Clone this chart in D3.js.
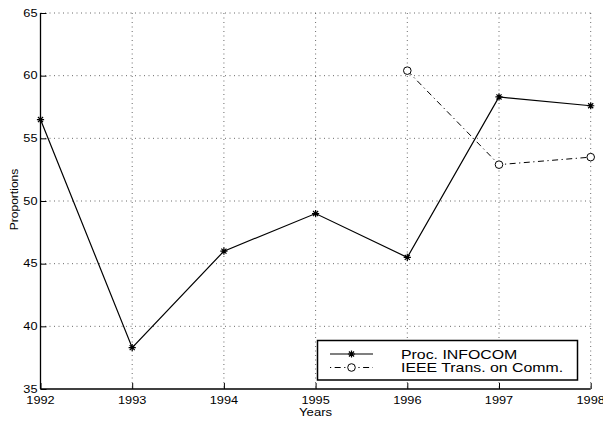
<!DOCTYPE html>
<html>
<head>
<meta charset="utf-8">
<script src="https://cdn.jsdelivr.net/npm/d3@7"></script>
<style>
  html, body { margin: 0; padding: 0; background: #fff; }
  svg { display: block; }
  text { font-family: Arial, "Liberation Sans", Helvetica, sans-serif; fill: #000; }
</style>
</head>
<body>
<svg id="chart" width="603" height="421"></svg>
<script>
// ---- data ----
const years = [1992, 1993, 1994, 1995, 1996, 1997, 1998];
const infocom = [56.5, 38.3, 46.0, 49.0, 45.5, 58.3, 57.6];
const ieeeYears = [1996, 1997, 1998];
const ieee = [60.4, 52.9, 53.5];
const yTicks = [35, 40, 45, 50, 55, 60, 65];
const xTicks = [1992, 1993, 1994, 1995, 1996, 1997, 1998];
const seriesNames = ["Proc. INFOCOM", "IEEE Trans. on Comm."];
const xLabel = "Years";
const yLabel = "Proportions";

(function () {
// ---- layout ----
const svg = d3.select("#chart");
const pLeft = 40.5, pRight = 590.7, pTop = 13, pBottom = 389;
const x = d3.scaleLinear().domain([1992, 1998]).range([pLeft, pRight]);
const y = d3.scaleLinear().domain([35, 65]).range([pBottom, pTop]);
const stretch = 1.25;

// grid
const grid = svg.append("g").attr("stroke", "#444").attr("stroke-width", 0.8)
  .attr("stroke-dasharray", "1,3.5");
grid.selectAll("line.h").data(yTicks.filter(d => d !== 35)).join("line")
  .attr("class", "h")
  .attr("x1", pLeft).attr("x2", pRight)
  .attr("y1", d => y(d)).attr("y2", d => y(d));
grid.selectAll("line.v").data(xTicks.filter(d => d !== 1992)).join("line")
  .attr("class", "v")
  .attr("x1", d => x(d)).attr("x2", d => x(d))
  .attr("y1", pTop).attr("y2", pBottom);

// axes (ticks inside)
const xAxis = d3.axisBottom(x).tickValues(xTicks).tickSize(-6).tickFormat("");
const yAxis = d3.axisLeft(y).tickValues(yTicks).tickSize(-6).tickFormat("");
const gx = svg.append("g").attr("transform", `translate(0,${pBottom})`).call(xAxis);
const gy = svg.append("g").attr("transform", `translate(${pLeft},0)`).call(yAxis);
gx.select(".domain").attr("stroke", "#000").attr("stroke-width", 1.3).attr("d", `M${pLeft},0H${pRight}`);
gy.select(".domain").attr("stroke", "#000").attr("stroke-width", 1.3).attr("d", `M0,${pBottom}V${pTop}`);
[gx, gy].forEach(g => g.selectAll(".tick line").attr("stroke", "#000").attr("stroke-width", 1));

// tick labels
svg.append("g").selectAll("text").data(xTicks).join("text")
  .attr("transform", d => `translate(${x(d)},403.5) scale(${stretch},1)`)
  .attr("text-anchor", "middle").attr("font-size", 10.2)
  .text(d => d);
svg.append("g").selectAll("text").data(yTicks).join("text")
  .attr("transform", d => `translate(37.5,${y(d) + 3.7}) scale(${stretch},1)`)
  .attr("text-anchor", "end").attr("font-size", 10.2)
  .text(d => d);

// axis titles
svg.append("text")
  .attr("transform", `translate(${(pLeft + pRight) / 2},415.5) scale(${stretch},1)`)
  .attr("text-anchor", "middle").attr("font-size", 10.5).text(xLabel);
svg.append("text")
  .attr("transform", `translate(17.5,${(pTop + pBottom) / 2 - 1.5}) rotate(-90) scale(1.15,1)`)
  .attr("text-anchor", "middle").attr("font-size", 10.5).text(yLabel);

// markers
function star(g, cx, cy, r) {
  const p = [];
  for (let i = 0; i < 4; i++) {
    const a = i * Math.PI / 4;
    p.push(`M${cx - r * Math.cos(a)},${cy - r * Math.sin(a)}L${cx + r * Math.cos(a)},${cy + r * Math.sin(a)}`);
  }
  g.append("path").attr("d", p.join("")).attr("stroke", "#000").attr("stroke-width", 1.2).attr("fill", "none");
}

// series 1
const line = d3.line().x(d => x(d[0])).y(d => y(d[1]));
const s1 = years.map((yr, i) => [yr, infocom[i]]);
svg.append("path").attr("d", line(s1)).attr("fill", "none")
  .attr("stroke", "#000").attr("stroke-width", 1.2);
const mg = svg.append("g");
s1.forEach(d => star(mg, x(d[0]), y(d[1]), 3.6));

// series 2
const s2 = ieeeYears.map((yr, i) => [yr, ieee[i]]);
svg.append("path").attr("d", line(s2)).attr("fill", "none")
  .attr("stroke", "#000").attr("stroke-width", 1)
  .attr("stroke-dasharray", "6,3.5,1.2,3.5");
svg.append("g").selectAll("circle").data(s2).join("circle")
  .attr("cx", d => x(d[0])).attr("cy", d => y(d[1])).attr("r", 3.8)
  .attr("fill", "#fff").attr("stroke", "#000").attr("stroke-width", 1);

// legend
const lg = svg.append("g");
lg.append("rect").attr("x", 317.5).attr("y", 340.5).attr("width", 260).attr("height", 39.5)
  .attr("fill", "#fff").attr("stroke", "#000").attr("stroke-width", 1.5);
lg.append("line").attr("x1", 330).attr("x2", 373).attr("y1", 354).attr("y2", 354)
  .attr("stroke", "#000").attr("stroke-width", 1.2);
star(lg, 351.5, 354, 3.6);
lg.append("line").attr("x1", 330).attr("x2", 373).attr("y1", 367.5).attr("y2", 367.5)
  .attr("stroke", "#000").attr("stroke-width", 1).attr("stroke-dasharray", "1.2,3.5,6,3.5");
lg.append("circle").attr("cx", 351.5).attr("cy", 367.5).attr("r", 3.8)
  .attr("fill", "#fff").attr("stroke", "#000").attr("stroke-width", 1);
lg.selectAll("text").data(seriesNames).join("text")
  .attr("transform", (d, i) => `translate(401,${358.5 + i * 13}) scale(1.27,1)`)
  .attr("font-size", 12.5).text(d => d);
})();
</script>
</body>
</html>
